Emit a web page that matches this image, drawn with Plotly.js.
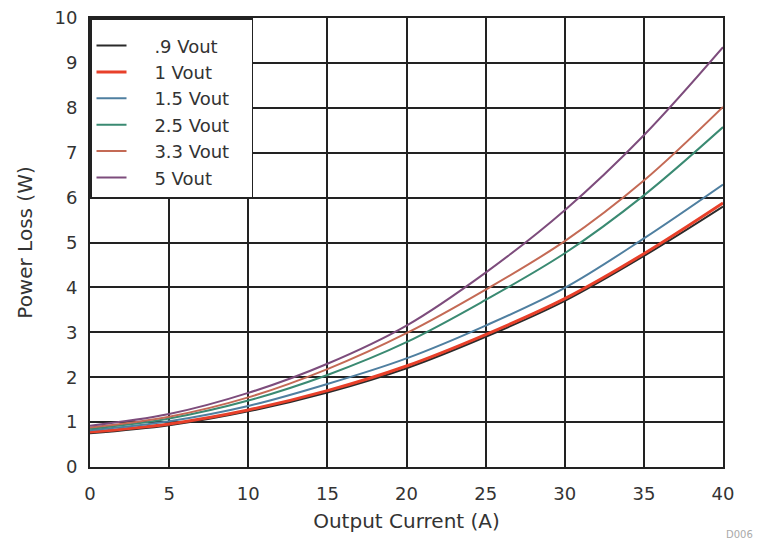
<!DOCTYPE html>
<html>
<head>
<meta charset="utf-8">
<script src="https://cdn.plot.ly/plotly-3.0.1.min.js"></script>
<style>html,body{margin:0;padding:0;background:#fff;}#chart{width:758px;height:542px;}</style>
</head>
<body>
<div id="chart"></div>
<script>
const current = [0, 5, 10, 15, 20, 25, 30, 35, 40];
const seriesNames = [".9 Vout", "1 Vout", "1.5 Vout", "2.5 Vout", "3.3 Vout", "5 Vout"];
const loss09 = [0.75, 0.93, 1.24, 1.66, 2.20, 2.90, 3.70, 4.70, 5.80];
const loss10 = [0.78, 0.96, 1.27, 1.70, 2.25, 2.95, 3.75, 4.75, 5.88];
const loss15 = [0.82, 1.02, 1.36, 1.85, 2.42, 3.15, 3.99, 5.09, 6.29];
const loss25 = [0.85, 1.08, 1.48, 2.05, 2.78, 3.72, 4.76, 6.05, 7.57];
const loss33 = [0.88, 1.12, 1.55, 2.18, 2.98, 3.95, 5.03, 6.38, 8.02];
const loss50 = [0.92, 1.18, 1.65, 2.30, 3.15, 4.33, 5.72, 7.39, 9.35];
const xTicks = [0, 5, 10, 15, 20, 25, 30, 35, 40];
const yTicks = [0, 1, 2, 3, 4, 5, 6, 7, 8, 9, 10];

const values = [loss09, loss10, loss15, loss25, loss33, loss50];
const colors = ["#2a2a2a", "#e8402a", "#4f7fa0", "#3a8a72", "#c46a55", "#7d4c7c"];
const widths = [2, 3, 2, 2, 2, 2];
const pad = "\u00a0\u00a0\u00a0\u00a0";

const traces = values.map((v, i) => ({
  x: current, y: v, name: pad + seriesNames[i] + "\u00a0\u00a0\u00a0", type: "scatter", mode: "lines",
  line: {color: colors[i], width: widths[i], shape: "spline", smoothing: 1},
  legendgroup: "g" + i
}));

const FAM = "DejaVu Sans, Verdana, sans-serif";
const font = {family: FAM, color: "#333"};
const axisCommon = {
  showgrid: true, gridcolor: "#222", gridwidth: 2,
  showline: true, linecolor: "#222", linewidth: 2, mirror: true,
  zeroline: false, ticks: "outside", tickcolor: "rgba(0,0,0,0)",
  tickfont: {family: FAM, size: 18, color: "#333"},
  fixedrange: true
};

const layout = {
  width: 758, height: 542,
  margin: {l: 90, r: 35, t: 18, b: 75},
  paper_bgcolor: "#fff", plot_bgcolor: "#fff",
  font: font,
  showlegend: true,
  legend: {
    x: 0, y: 1, xanchor: "left", yanchor: "top",
    bgcolor: "#fff", bordercolor: "#222", borderwidth: 1.5,
    font: {family: FAM, size: 18, color: "#333"}, tracegroupgap: 0,
    title: {text: "\u00a0", font: {size: 6}}
  },
  xaxis: Object.assign({}, axisCommon, {
    range: [0, 40], tickvals: xTicks, ticklen: 9,
    title: {text: "Output Current (A)", font: {family: FAM, size: 20, color: "#333"}, standoff: 11}
  }),
  yaxis: Object.assign({}, axisCommon, {
    range: [0, 10], tickvals: yTicks, ticklen: 7,
    title: {text: "Power Loss (W)", font: {family: FAM, size: 20, color: "#333"}, standoff: 16}
  }),
  annotations: [{
    text: "D006", xref: "paper", yref: "paper", x: 1.05, y: -0.15,
    xanchor: "right", yanchor: "middle", showarrow: false,
    font: {family: FAM, size: 10, color: "#aaa"}
  }]
};

Plotly.newPlot("chart", traces, layout, {displayModeBar: false, staticPlot: true});
</script>
</body>
</html>
